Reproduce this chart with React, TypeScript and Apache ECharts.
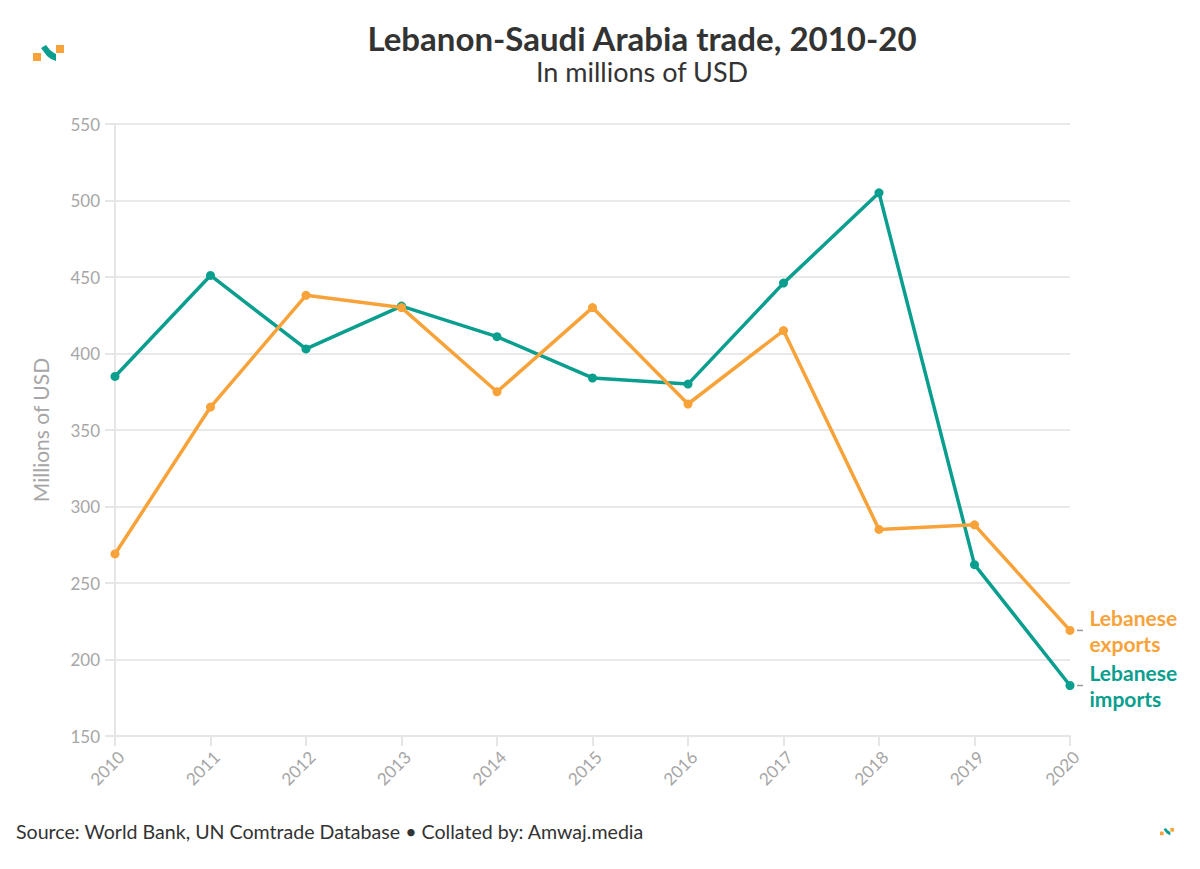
import React, { useEffect, useRef } from "react";
import * as echarts from "echarts";

const years = ["2010", "2011", "2012", "2013", "2014", "2015", "2016", "2017", "2018", "2019", "2020"];
const exportsVals = [269, 365, 438, 430, 375, 430, 367, 415, 285, 288, 219];
const importsVals = [385, 451, 403, 431, 411, 384, 380, 446, 505, 262, 183];

const ORANGE = "#F8A23A";
const TEAL = "#0A9E8E";
const FONT = "Lato, 'Noto Sans', sans-serif";

function logo(x: number, y: number, s: number) {
  return {
    type: "group",
    x,
    y,
    scaleX: s,
    scaleY: s,
    children: [
      { type: "rect", shape: { x: 0, y: 8, width: 8, height: 8 }, style: { fill: ORANGE } },
      { type: "rect", shape: { x: 23, y: 0, width: 8, height: 8 }, style: { fill: ORANGE } },
      {
        type: "polygon",
        shape: { points: [[8, 3], [13, 0], [17, 5], [21, 8], [23, 9], [23, 16], [18, 14], [14, 11], [11, 7]] },
        style: { fill: TEAL },
      },
    ],
  };
}

function endLabel(color: string, text: string) {
  return {
    show: true,
    position: "right",
    distance: 15,
    formatter: text,
    color,
    fontFamily: FONT,
    fontWeight: "bold",
    fontSize: 21,
    lineHeight: 26,
    align: "left",
  };
}

export default function App() {
  const ref = useRef<HTMLDivElement>(null);
  useEffect(() => {
    document.body.style.margin = "0";
    const chart = echarts.init(ref.current!, null, { renderer: "svg" });
    const lastIdx = years.length - 1;
    const mk = (vals: number[], color: string, label: string) =>
      vals.map((v, i) =>
        i === lastIdx
          ? {
              value: v,
              label: endLabel(color, label),
            }
          : v
      );
    chart.setOption({
      animation: false,
      backgroundColor: "#ffffff",
      textStyle: { fontFamily: FONT },
      title: {
        text: "Lebanon-Saudi Arabia trade, 2010-20",
        subtext: "In millions of USD",
        left: 637,
        top: 16,
        textAlign: "center",
        itemGap: 4,
        textStyle: { fontFamily: FONT, fontSize: 33, fontWeight: "bold", color: "#333333" },
        subtextStyle: { fontFamily: FONT, fontSize: 27, color: "#333333" },
      },
      grid: { left: 115, right: 130, top: 124, bottom: 133, containLabel: false },
      xAxis: {
        type: "category",
        data: years,
        boundaryGap: false,
        axisLine: { show: true, lineStyle: { color: "#e6e6e6", width: 2 } },
        axisTick: { show: true, length: 10, alignWithLabel: true, lineStyle: { color: "#e6e6e6", width: 2 } },
        axisLabel: {
          rotate: 45,
          color: "#a6a6a6",
          fontSize: 17,
          fontFamily: FONT,
          margin: 12,
          verticalAlign: "top",
        },
      },
      yAxis: {
        type: "value",
        min: 150,
        max: 550,
        interval: 50,
        name: "Millions of USD",
        nameLocation: "middle",
        nameGap: 64,
        nameTextStyle: { color: "#a6a6a6", fontSize: 21, fontFamily: FONT },
        axisLine: { show: true, lineStyle: { color: "#e6e6e6", width: 2 } },
        axisTick: { show: true, length: 10, lineStyle: { color: "#e6e6e6", width: 2 } },
        axisLabel: { color: "#a6a6a6", fontSize: 17, fontFamily: FONT, margin: 15 },
        splitLine: { show: true, lineStyle: { color: "#e9e9e9", width: 2 } },
      },
      series: [
        {
          name: "Lebanese imports",
          type: "line",
          data: mk(importsVals, TEAL, "Lebanese\nimports"),
          symbol: "circle",
          symbolSize: 9,
          lineStyle: { color: TEAL, width: 3.5 },
          itemStyle: { color: TEAL },
        },
        {
          name: "Lebanese exports",
          type: "line",
          data: mk(exportsVals, ORANGE, "Lebanese\nexports"),
          symbol: "circle",
          symbolSize: 9,
          lineStyle: { color: ORANGE, width: 3.5 },
          itemStyle: { color: ORANGE },
        },
        {
          name: "dash",
          type: "line",
          data: years.map((_, i) => (i === lastIdx ? importsVals[i] : null)),
          symbol: "none",
          silent: true,
          lineStyle: { width: 0 },
          markPoint: {
            symbol: "rect",
            symbolSize: [6, 1.5],
            symbolOffset: [10, 0],
            itemStyle: { color: "#999999" },
            label: { show: false },
            data: [
              { coord: [lastIdx, importsVals[lastIdx]] },
              { coord: [lastIdx, exportsVals[lastIdx]] },
            ],
          },
        },
      ],
      graphic: [
        logo(33, 45, 1),
        logo(1160, 828, 0.45),
        {
          type: "text",
          left: 16,
          top: 821,
          style: {
            text: "Source: World Bank, UN Comtrade Database • Collated by: Amwaj.media",
            fill: "#333333",
            font: `19.6px ${FONT}`,
          },
        },
      ],
    });
    return () => chart.dispose();
  }, []);
  return <div ref={ref} style={{ width: 1200, height: 869 }} />;
}
